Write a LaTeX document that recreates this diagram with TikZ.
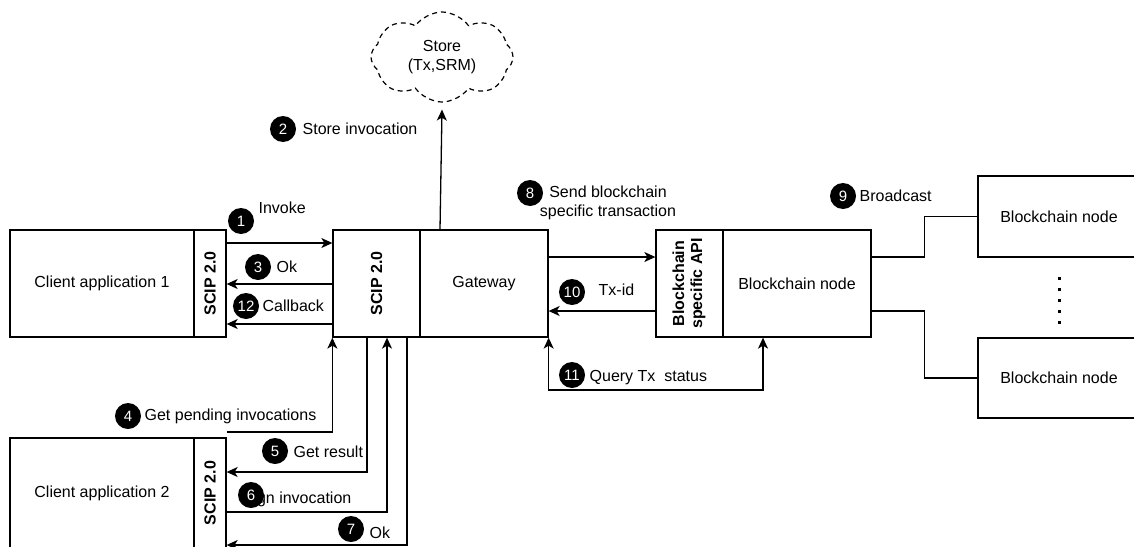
\documentclass[tikz,border=0pt]{standalone}
\usepackage{fontspec}
\setmainfont{Liberation Sans}
\usetikzlibrary{arrows.meta,shapes.symbols,calc}
\begin{document}
\begin{tikzpicture}[x=1pt,y=-1pt,
  font=\fontsize{16}{19}\selectfont,
  line width=1.3pt,
  box/.style={draw, line width=1.3pt, inner sep=0pt, align=center},
  bold rot/.style={box, font=\fontsize{16}{18}\selectfont\bfseries},
  arr/.style={-{Stealth[length=11pt,width=10pt,inset=3pt]}},
  arr2/.style={{Stealth[length=11pt,width=10pt,inset=3pt]}-{Stealth[length=11pt,width=10pt,inset=3pt]}},
  num/.style={circle, fill=black, text=white, minimum size=26pt, inner sep=0pt,
              font=\fontsize{15}{15}\selectfont},
  lbl/.style={anchor=west, inner sep=0pt},
]
\useasboundingbox (0,0) rectangle (1134,546);

% client application 1 with its SCIP endpoint
\node[box, minimum width=184, minimum height=107] (c1) at (102,283.5) {Client application 1};
\node[bold rot, minimum width=32, minimum height=107] (c1s) at (210,283.5) {\rotatebox{90}{SCIP 2.0}};

% gateway
\node[bold rot, minimum width=87, minimum height=107] (gws) at (376.5,283.5) {\rotatebox{90}{SCIP 2.0}};
\node[box, minimum width=128, minimum height=107] (gw) at (484,283.5) {Gateway};

% blockchain node with its API
\node[bold rot, minimum width=67, minimum height=107] (api) at (689.5,283.5)
  {\rotatebox{90}{\begin{tabular}{@{}c@{}}Blockchain\\specific API\end{tabular}}};
\node[box, minimum width=148, minimum height=107] (bcn) at (797,283.5) {Blockchain node};

% peer nodes
\node[box, minimum width=162, minimum height=81] (bn1) at (1059,216.5) {Blockchain node};
\node[box, minimum width=162, minimum height=80] (bn2) at (1059,378) {Blockchain node};
\foreach \yy in {278,289,300,311,322}
  \fill (1057.5,\yy-1.5) rectangle ++(3,3);

% client application 2 with its SCIP endpoint
\node[box, minimum width=184, minimum height=110] (c2) at (102,493) {Client application 2};
\node[bold rot, minimum width=32, minimum height=110] (c2s) at (210,493) {\rotatebox{90}{SCIP 2.0}};

% store
\node[cloud, draw, dashed, dash pattern=on 5pt off 4pt, cloud puffs=8, cloud puff arc=110,
      aspect=1.6, minimum width=142, minimum height=90, inner sep=0pt, align=center,
      line width=1.2pt] (store) at (442,57) {Store\\(Tx,SRM)};

% client 1 <-> gateway
\draw[arr] (c1s.east |- 0,243) -- (gws.west |- 0,243);
\draw[arr] (gws.west |- 0,284) -- (c1s.east |- 0,284);
\draw[arr] (gws.west |- 0,324) -- (c1s.east |- 0,324);

% gateway -> store
\draw[arr] (gw.north west -| 440,0) -- ([yshift=-7pt]store.south);

% gateway <-> blockchain
\draw[arr] (gw.east |- 0,257) -- (api.west |- 0,257);
\draw[arr] (api.west |- 0,311) -- (gw.east |- 0,311);
\draw[arr2] (gw.south east) -- (gw.south east |- 0,390) -| ([xshift=-34pt]bcn.south);

% broadcast
\draw (bcn.east |- 0,257) -- ++(53,0) |- (bn1.west);
\draw (bcn.east |- 0,311) -- ++(53,0) |- (bn2.west);

% client 2 <-> gateway
\draw[arr] (c2s.east |- 0,432) -| (gws.south west);
\draw[arr] (gws.south west -| 367,0) |- (c2s.east |- 0,472);
\draw[arr] (c2s.east |- 0,512) -| (gws.south west -| 387,0);
\draw[arr] (gws.south west -| 407,0) |- (c2s.east |- 0,545);

% step labels
\node[lbl] (t1) at (258,208) {Invoke};
\node[num] (n1) at (241,221) {1};
\node[lbl] (t2) at (302,129) {Store invocation};
\node[num] (n2) at (283,129) {2};
\node[lbl] (t3) at (276,267) {Ok};
\node[num] (n3) at (258,267) {3};
\node[lbl] (t12) at (262,306) {Callback};
\node[num] (n12) at (246,306) {12};
\node[lbl] (t4) at (144,416) {Get pending invocations};
\node[num] (n4) at (128,416) {4};
\node[lbl] (t5) at (293,452) {Get result};
\node[num] (n5) at (275,451) {5};
\node[lbl, anchor=east] (t6) at (352,499) {Sign invocation};
\node[num] (n6) at (251,495) {6};
\node[lbl] (t7) at (369,533) {Ok};
\node[num] (n7) at (351,529) {7};
\node[align=center, inner sep=0pt] (t8) at (608,203) {Send blockchain\\specific transaction};
\node[num] (n8) at (530,193) {8};
\node[lbl] (t9) at (859,196) {Broadcast};
\node[num] (n9) at (843,196) {9};
\node[lbl] (t10) at (598,290) {Tx-id};
\node[num] (n10) at (572,292) {10};
\node[lbl] (t11) at (589,378) {Query Tx\ \ status};
\node[num] (n11) at (572,375) {11};
\end{tikzpicture}
\end{document}
